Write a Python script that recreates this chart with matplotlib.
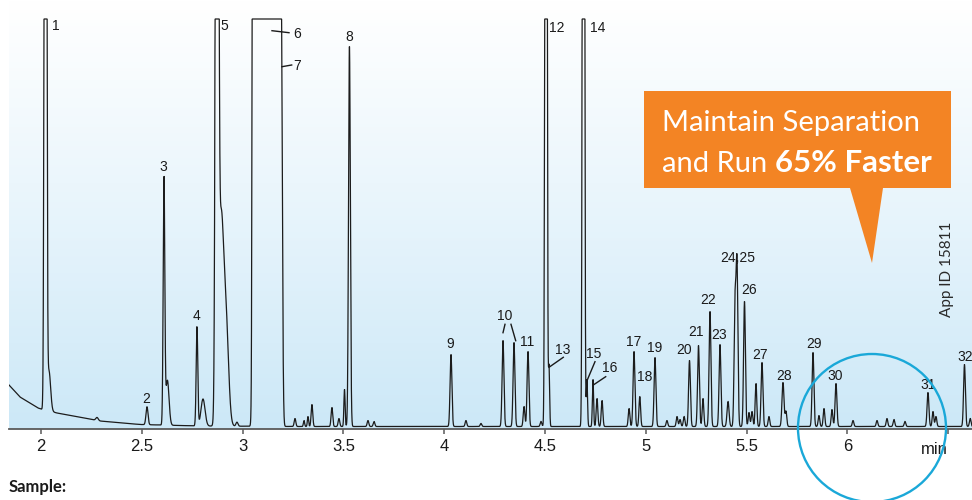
import numpy as np
import matplotlib
matplotlib.use("Agg")
import matplotlib.pyplot as plt
from matplotlib.patches import Polygon, Circle

# ---------------- data ----------------
# retention time (min), peak height (signal units), peak sigma (min)
peak_time = [2.0223, 2.0397, 2.278, 2.5258, 2.6101, 2.627, 2.7738, 2.8036, 2.873, 2.893,
             2.918, 2.972, 3.1161, 3.1905, 3.1954, 3.260, 3.3046, 3.3244, 3.344, 3.443,
             3.478, 3.5055, 3.530, 3.622, 3.652, 4.0337, 4.108, 4.1825, 4.2917, 4.3462,
             4.396, 4.4157, 4.4802, 4.505, 4.5198, 4.691, 4.708, 4.738, 4.758, 4.783,
             4.917, 4.9415, 4.9702, 5.0456, 5.105, 5.155, 5.170, 5.190, 5.2168, 5.2614,
             5.2837, 5.3185, 5.368, 5.408, 5.4425, 5.4524, 5.4896, 5.512, 5.527, 5.5466,
             5.5764, 5.611, 5.6806, 5.6955, 5.8294, 5.859, 5.884, 5.9236, 5.9435, 6.028,
             6.147, 6.1964, 6.231, 6.2857, 6.3998, 6.4246, 6.4395, 6.5808, 6.6093]
peak_height = [2000, 40, 3, 18, 244, 45, 99, 27, 1500, 200,
               100, 4, 1e12, 361, 150, 8, 6, 10, 22, 19,
               8, 37, 380, 6, 5, 72, 6, 3, 86, 84,
               20, 75, 5, 2000, 60, 2000, 47, 47, 28, 26,
               18, 75, 30, 69, 6, 10, 7, 10, 66, 81,
               28, 115, 82, 25, 120, 160, 125, 14, 15, 43,
               64, 10, 44, 15, 74, 11, 18, 17, 43, 6,
               6, 8, 7, 5, 34, 15, 10, 62, 8]
peak_sigma = [0.0045, 0.008, 0.006, 0.005, 0.004, 0.008, 0.004, 0.010, 0.006, 0.0124,
              0.0124, 0.005, 0.0106, 0.004, 0.0045, 0.004, 0.003, 0.003, 0.004, 0.004,
              0.004, 0.003, 0.0045, 0.004, 0.004, 0.0045, 0.004, 0.004, 0.0045, 0.0045,
              0.004, 0.0045, 0.004, 0.004, 0.003, 0.004, 0.003, 0.003, 0.004, 0.004,
              0.004, 0.0045, 0.004, 0.0045, 0.004, 0.004, 0.004, 0.004, 0.0045, 0.0045,
              0.004, 0.0045, 0.0045, 0.005, 0.0045, 0.0045, 0.0045, 0.004, 0.004, 0.004,
              0.0045, 0.004, 0.005, 0.004, 0.0045, 0.004, 0.004, 0.004, 0.0045, 0.004,
              0.004, 0.004, 0.004, 0.004, 0.0045, 0.004, 0.004, 0.0045, 0.004]

baseline_time = [1.8413, 1.8958, 1.9851, 2.015, 2.06, 2.0794, 2.2927, 2.4911, 2.7887, 3.2847, 6.62]
baseline_level = [42, 30, 19, 17, 15, 14, 6, 2.5, 1, 0.5, 0.5]

tick_values = [2, 2.5, 3, 3.5, 4, 4.5, 5, 5.5, 6, 6.5]
tick_labels = ["2", "2.5", "3", "3.5", "4", "4.5", "5", "5.5", "6", ""]

peak_labels = ["1", "2", "3", "4", "5", "6", "7", "8", "9", "10", "11", "12", "13", "14",
               "15", "16", "17", "18", "19", "20", "21", "22", "23", "24,25", "26", "27",
               "28", "29", "30", "31", "32"]

# ---------------- layout (annotation positions) ----------------
label_t = [2.0719, 2.5233, 2.6052, 2.7689, 2.9102, 3.2698, 3.2698, 3.5303, 4.0288, 4.2991,
           4.4107, 4.5595, 4.5868, 4.7629, 4.7431, 4.8224, 4.9415, 4.996, 5.0432, 5.1920,
           5.2515, 5.3085, 5.3656, 5.4558, 5.5104, 5.5689, 5.6880, 5.8328, 5.9385, 6.3998,
           6.5833]
label_y = [401.5, 28, 260, 111, 401.5, 393.5, 361, 390, 82.5, 111.5,
           84.5, 399.5, 77.5, 399.5, 72.5, 58.5, 84.5, 50, 78.5, 77,
           94.5, 126.5, 92, 168.5, 137.5, 72.3, 51, 83, 51, 42,
           70]
leader_lines = [((3.1458, 396.3), (3.2302, 394.3)),
                ((3.1954, 360.3), (3.2435, 362.0)),
                ((4.3016, 102.7), (4.2917, 94.3)),
                ((4.3313, 102.7), (4.3547, 86.3)),
                ((4.5198, 59.7), (4.5908, 69.7)),
                ((4.7098, 47.0), (4.7480, 65.3)),
                ((4.7396, 42.0), (4.8011, 50.3))]

W, H = 972, 500
fig = plt.figure(figsize=(W / 100, H / 100), dpi=100)
fig.patch.set_facecolor("white")

# main chromatogram axes (pixel box: x 9..972, y 0..429)
ax = fig.add_axes([9 / W, (H - 429) / H, (W - 9) / W, 429 / H])
x0, x1 = 1.8413, 6.6181
y0, y1 = -2, 427
ax.set_xlim(x0, x1)
ax.set_ylim(y0, y1)

# gradient background
top = np.array([1.0, 1.0, 1.0])
bot = np.array([0.80, 0.91, 0.97])
f = np.linspace(0, 1, 256)[:, None] ** 1.1
grad = (top[None, :] * (1 - f) + bot[None, :] * f)[:, None, :]
ax.imshow(grad, extent=[x0, x1, y0, y1], aspect="auto", zorder=0, origin="upper",
          interpolation="bilinear")

# trace
t = np.arange(x0, x1 + 0.0002, 0.0002)
sig = np.interp(t, baseline_time, baseline_level)
for pt, ph, ps in zip(peak_time, peak_height, peak_sigma):
    sig = sig + ph * np.exp(-0.5 * ((t - pt) / ps) ** 2)
sig = np.minimum(sig, 408)
ax.plot(t, sig, color="#1c1c1c", lw=0.9, zorder=3, solid_joinstyle="miter")

for s in ["top", "left", "right"]:
    ax.spines[s].set_visible(False)
ax.spines["bottom"].set_color("#5a5a5a")
ax.spines["bottom"].set_linewidth(1.3)
ax.set_yticks([])
ax.set_xticks(tick_values)
ax.set_xticklabels(tick_labels, fontsize=12, family="Liberation Sans", color="#1a1a1a")
ax.tick_params(axis="x", direction="out", length=3.5, width=1.1, color="#5a5a5a", pad=4)

for lab, lt, ly in zip(peak_labels, label_t, label_y):
    ax.text(lt, ly, lab, ha="center", va="center", fontsize=10,
            family="Liberation Sans", color="#1a1a1a", zorder=4, clip_on=False)
for (a, b) in leader_lines:
    ax.plot([a[0], b[0]], [a[1], b[1]], color="#1a1a1a", lw=1.0, zorder=4)

# overlay axes in pixel coordinates for callout and decorations
ov = fig.add_axes([0, 0, 1, 1])
ov.set_xlim(0, W)
ov.set_ylim(H, 0)
ov.axis("off")
ov.patch.set_alpha(0)

callout = Polygon([(644, 91), (951, 91), (951, 188), (883, 188), (872, 263), (850, 188),
                   (644, 188)], closed=True, facecolor="#F38424", edgecolor="none", zorder=5)
ov.add_patch(callout)
ov.text(662, 131.5, "Maintain Separation", fontsize=21, family="Lato", weight="normal",
        color="white", ha="left", va="baseline", zorder=6)
ov.text(662, 171.5, "and Run", fontsize=21, family="Lato", weight="normal",
        color="white", ha="left", va="baseline", zorder=6)
ov.text(775, 171.5, "65% Faster", fontsize=22.5, family="Lato", weight="bold",
        color="white", ha="left", va="baseline", zorder=6)

ov.add_patch(Circle((872, 428), 74, fill=False, edgecolor="#1AA8D8", lw=1.7, zorder=6))

ov.text(947, 269, "App ID 15811", rotation=90, fontsize=11, family="Lato",
        color="#2a2a2a", ha="center", va="center")
ov.text(934, 449, "min", fontsize=12, family="Liberation Sans", color="#1a1a1a",
        ha="center", va="center")
ov.text(9, 487, "Sample:", fontsize=12, family="Lato", weight="bold", color="#1a1a1a",
        ha="left", va="center")

fig.savefig("out.png", dpi=100)
